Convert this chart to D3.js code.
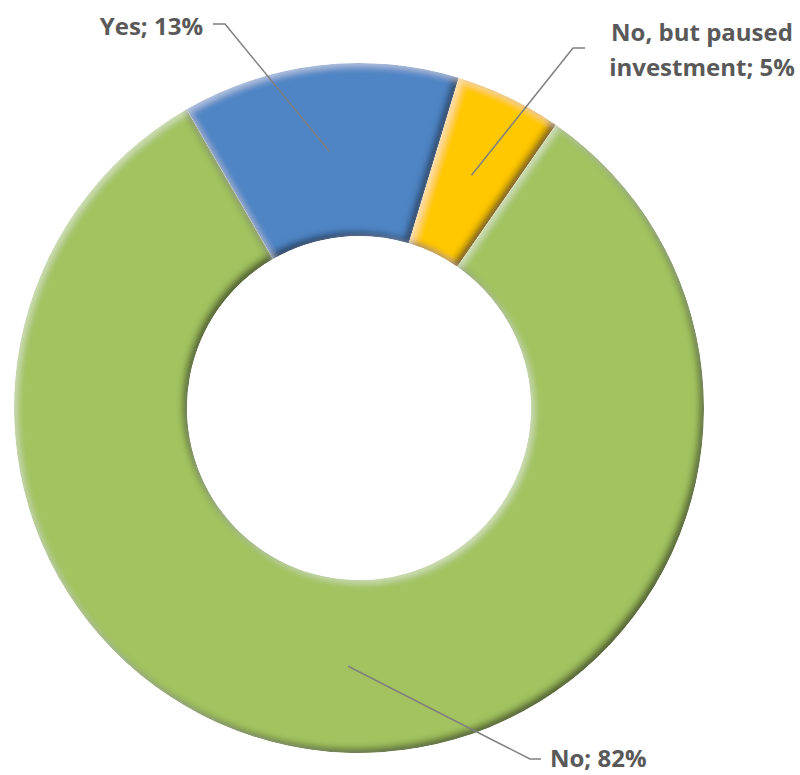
<!DOCTYPE html>
<html>
<head>
<meta charset="utf-8">
<script src="https://cdn.jsdelivr.net/npm/d3@7"></script>
<style>
  body { margin: 0; background: #fff; }
  .lbl { font-family: "Open Sans", "DejaVu Sans", sans-serif; font-weight: 700; fill: #595959; }
</style>
</head>
<body>
<svg id="chart" width="800" height="775"></svg>
<script>
// ========== DATA ==========
const categories = ["Yes", "No, but paused investment", "No"];
const values = [13, 5, 82];
const colors = ["#4F85C5", "#FFC800", "#A2C360"];
const labelLines = [["Yes; 13%"], ["No, but paused", "investment; 5%"], ["No; 82%"]];

// label placement (layout only)
const labelPos = [
  { x: 203, y: 35, anchor: "end", knee: [[213, 24], [225, 24]] },
  { x: 702, y: 41, anchor: "middle", knee: [[585, 48], [573, 48]] },
  { x: 550, y: 767, anchor: "start", knee: [[541, 759], [530, 759]] }
];

const cx = 359, cy = 408, R = 345, r = 172;

const svg = d3.select("#chart");

// ========== BEVEL FILTER ==========
const defs = svg.append("defs");
const f = defs.append("filter").attr("id", "bevel")
  .attr("x", "-5%").attr("y", "-5%").attr("width", "110%").attr("height", "110%");
f.append("feGaussianBlur").attr("in", "SourceAlpha").attr("stdDeviation", 3.5).attr("result", "b");
f.append("feOffset").attr("in", "b").attr("dx", -4).attr("dy", -4).attr("result", "o1");
f.append("feComposite").attr("in", "SourceAlpha").attr("in2", "o1")
  .attr("operator", "arithmetic").attr("k2", 1).attr("k3", -1).attr("result", "darkEdge");
f.append("feFlood").attr("flood-color", "#111").attr("flood-opacity", 0.85);
f.append("feComposite").attr("in2", "darkEdge").attr("operator", "in").attr("result", "dark");
f.append("feOffset").attr("in", "b").attr("dx", 3).attr("dy", 3).attr("result", "o2");
f.append("feComposite").attr("in", "SourceAlpha").attr("in2", "o2")
  .attr("operator", "arithmetic").attr("k2", 1).attr("k3", -1).attr("result", "lightEdge");
f.append("feFlood").attr("flood-color", "#ffffff").attr("flood-opacity", 0.45);
f.append("feComposite").attr("in2", "lightEdge").attr("operator", "in").attr("result", "light");
const merge = f.append("feMerge").attr("result", "m");
merge.append("feMergeNode").attr("in", "SourceGraphic");
merge.append("feMergeNode").attr("in", "dark");
merge.append("feMergeNode").attr("in", "light");
f.append("feComposite").attr("in", "m").attr("in2", "SourceAlpha").attr("operator", "in");

// ========== DONUT ==========
const pie = d3.pie().sort(null).value(d => d)
  .startAngle(-30 * Math.PI / 180)
  .endAngle(330 * Math.PI / 180);
const arcs = pie(values);
const arc = d3.arc().innerRadius(r).outerRadius(R);

const g = svg.append("g").attr("transform", `translate(${cx},${cy})`);

g.selectAll("path.slice")
  .data(arcs)
  .join("path")
  .attr("class", "slice")
  .attr("d", arc)
  .attr("fill", (d, i) => colors[i])
  .attr("filter", "url(#bevel)");

// ========== LEADERS + LABELS ==========
arcs.forEach((d, i) => {
  const c = arc.centroid(d);
  const p = labelPos[i];
  const pts = [p.knee[0], p.knee[1], [c[0] + cx, c[1] + cy]];
  svg.append("path")
    .attr("d", d3.line()(pts))
    .attr("fill", "none")
    .attr("stroke", "#7F7F7F")
    .attr("stroke-width", 1.5);

  const t = svg.append("text")
    .attr("class", "lbl")
    .attr("x", p.x).attr("y", p.y)
    .attr("text-anchor", p.anchor)
    .style("font-size", "24px");
  labelLines[i].forEach((ln, k) => {
    t.append("tspan").attr("x", p.x).attr("dy", k === 0 ? 0 : 35).text(ln);
  });
});
</script>
</body>
</html>
